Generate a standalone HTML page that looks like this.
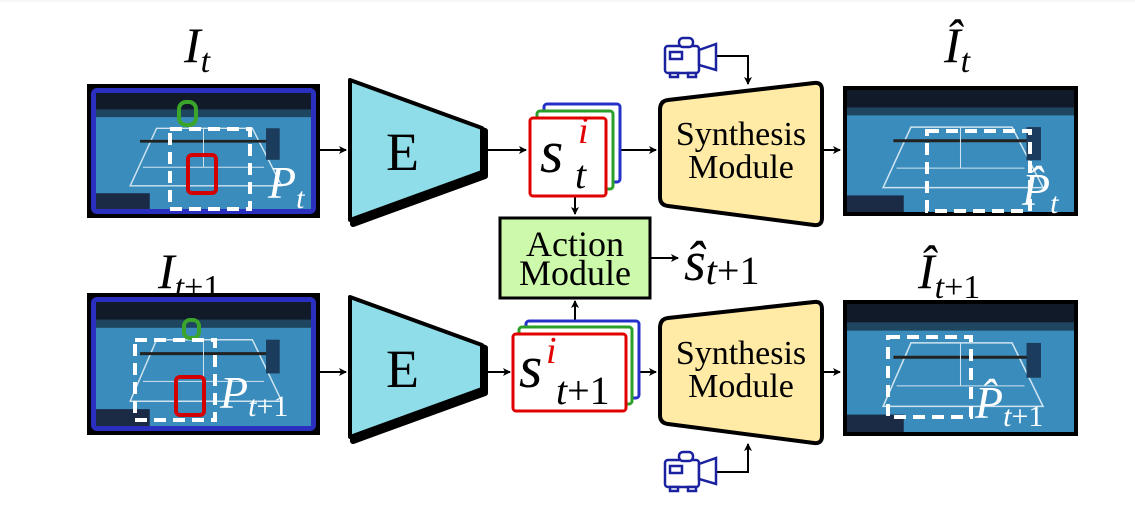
<!DOCTYPE html>
<html><head><meta charset="utf-8"><style>
body{margin:0;background:#fff}
svg{display:block}
text{font-family:"Liberation Serif","DejaVu Serif",serif}
</style></head><body>
<svg width="1135" height="506" viewBox="0 0 1135 506">
<defs>
<marker id="ah" markerWidth="8" markerHeight="8" refX="7" refY="4" orient="auto" markerUnits="userSpaceOnUse"><path d="M0,0 L8,4 L0,8 L2,4z" fill="#000"/></marker>
<g id="court">
<rect x="0" y="0" width="220" height="125" fill="#3a8cbc"/>
<rect x="0" y="0" width="220" height="18" fill="#101a28"/>
<rect x="0" y="18" width="220" height="8" fill="#1f4660"/>
<polygon points="62,38 160,38 190,100 35,100" fill="none" stroke="#cfe4f0" stroke-width="1.5"/>
<line x1="45" y1="52" x2="178" y2="52" stroke="#222" stroke-width="3"/>
<line x1="110" y1="38" x2="110" y2="80" stroke="#cfe4f0"/>
<line x1="48" y1="80" x2="172" y2="80" stroke="#cfe4f0"/>
<rect x="174" y="38" width="14" height="34" fill="#1b3c5c"/>
<rect x="-5" y="108" width="60" height="18" fill="#1b2a45"/>
</g>
</defs>
<rect width="1135" height="506" fill="#fff"/>
<line x1="0" y1="1" x2="1135" y2="1" stroke="#eee"/>

<g font-style="italic">
<text x="184" y="62" font-size="50">I<tspan font-size="34" dy="10">t</tspan></text>
<text x="158" y="288" font-size="50">I<tspan font-size="34" dy="10">t</tspan><tspan font-style="normal" font-size="34">+1</tspan></text>
<text x="944" y="62" font-size="50">Î<tspan font-size="34" dy="10">t</tspan></text>
<text x="918" y="288" font-size="50">Î<tspan font-size="34" dy="10">t</tspan><tspan font-style="normal" font-size="34">+1</tspan></text>
</g>

<g>
<rect x="87" y="84" width="233" height="134" fill="#000"/>
<rect x="91" y="88" width="225" height="126" rx="6" fill="#2a2fbf"/>
<svg x="96" y="93" width="215" height="116" viewBox="0 0 220 125" preserveAspectRatio="none"><use href="#court"/></svg>
<rect x="179" y="102" width="17" height="23" rx="7" fill="none" stroke="#3aa52a" stroke-width="4"/>
<rect x="170" y="129" width="80" height="80" fill="none" stroke="#fff" stroke-width="4" stroke-dasharray="12,7"/>
<rect x="188" y="155" width="28" height="38" rx="4" fill="none" stroke="#d40000" stroke-width="4"/>
<text x="268" y="198" font-size="46" font-style="italic" fill="#fff">P<tspan font-size="30" dy="10">t</tspan></text>
</g>
<g>
<rect x="87" y="293" width="233" height="142" fill="#000"/>
<rect x="91" y="297" width="225" height="134" rx="6" fill="#2a2fbf"/>
<svg x="96" y="302" width="215" height="124" viewBox="0 0 220 125" preserveAspectRatio="none"><use href="#court"/></svg>
<rect x="184" y="320" width="15" height="18" rx="6" fill="none" stroke="#3aa52a" stroke-width="4"/>
<rect x="135" y="340" width="80" height="80" fill="none" stroke="#fff" stroke-width="4" stroke-dasharray="12,7"/>
<rect x="176" y="377" width="28" height="38" rx="4" fill="none" stroke="#d40000" stroke-width="4"/>
<text x="220" y="408" font-size="46" font-style="italic" fill="#fff">P<tspan font-size="30" dy="8">t</tspan><tspan font-style="normal" font-size="30">+1</tspan></text>
</g>

<g>
<path d="M353,84 L485,131 L485,176 L353,224z" fill="#000" stroke="#000" stroke-width="6" stroke-linejoin="round"/>
<path d="M350,80 L482,128 L482,172 L350,220z" fill="#8fdde8" stroke="#000" stroke-width="4" stroke-linejoin="round"/>
<text x="386" y="170" font-size="54">E</text>
</g>
<g>
<path d="M353,301 L485,348 L485,393 L353,441z" fill="#000" stroke="#000" stroke-width="6" stroke-linejoin="round"/>
<path d="M350,297 L482,345 L482,389 L350,437z" fill="#8fdde8" stroke="#000" stroke-width="4" stroke-linejoin="round"/>
<text x="386" y="387" font-size="54">E</text>
</g>

<g stroke="#000" stroke-width="2" fill="none" marker-end="url(#ah)">
<line x1="320" y1="150" x2="346" y2="150"/>
<line x1="320" y1="372" x2="346" y2="372"/>
<line x1="487" y1="150" x2="526" y2="150"/>
<line x1="487" y1="372" x2="510" y2="372"/>
<line x1="620" y1="150" x2="656" y2="150"/>
<line x1="629" y1="372" x2="656" y2="372"/>
<line x1="822" y1="150" x2="840" y2="150"/>
<line x1="822" y1="372" x2="840" y2="372"/>
<line x1="575" y1="196" x2="575" y2="214"/>
<line x1="575" y1="332" x2="575" y2="301"/>
<line x1="651" y1="258" x2="678" y2="258"/>
<polyline points="717,56 748,56 748,84"/>
<polyline points="717,472 748,472 748,444"/>
</g>

<g>
<rect x="544" y="104" width="76" height="78" rx="3" fill="#fff" stroke="#2530c8" stroke-width="3"/>
<rect x="537" y="111" width="76" height="78" rx="3" fill="#fff" stroke="#2aa02a" stroke-width="3"/>
<rect x="530" y="118" width="76" height="78" rx="3" fill="#fff" stroke="#e00000" stroke-width="3"/>
<text x="540" y="172" font-size="60" font-style="italic">s</text>
<text x="578" y="143" font-size="38" font-style="italic" fill="#e00000">i</text>
<text x="575" y="188" font-size="40" font-style="italic">t</text>
</g>
<g>
<rect x="526" y="321" width="113" height="77" rx="3" fill="#fff" stroke="#2530c8" stroke-width="3"/>
<rect x="519" y="327" width="113" height="77" rx="3" fill="#fff" stroke="#2aa02a" stroke-width="3"/>
<rect x="513" y="334" width="113" height="77" rx="3" fill="#fff" stroke="#e00000" stroke-width="3"/>
<text x="519" y="387" font-size="60" font-style="italic">s</text>
<text x="546" y="363" font-size="38" font-style="italic" fill="#e00000">i</text>
<text x="556" y="404" font-size="40"><tspan font-style="italic">t</tspan>+1</text>
</g>

<g>
<rect x="500" y="218" width="150" height="80" fill="#ccf9aa" stroke="#000" stroke-width="3"/>
<text x="575" y="256" font-size="36" text-anchor="middle">Action</text>
<text x="575" y="285" font-size="36" text-anchor="middle">Module</text>
</g>
<text x="684" y="280" font-size="56" font-style="italic">ŝ<tspan font-size="40" dy="4">t</tspan><tspan font-size="40" font-style="normal">+1</tspan></text>

<g>
<path d="M668,100 L814,83 Q822,82 822,90 L822,218 Q822,226 814,225 L668,206 Q660,205 660,197 L660,110 Q660,101 668,100z" fill="#ffeaa6" stroke="#000" stroke-width="4"/>
<text x="741" y="145" font-size="34" text-anchor="middle">Synthesis</text>
<text x="741" y="178" font-size="34" text-anchor="middle">Module</text>
</g>
<g>
<path d="M668,318 L814,302 Q822,301 822,309 L822,436 Q822,444 814,443 L668,424 Q660,423 660,415 L660,328 Q660,319 668,318z" fill="#ffeaa6" stroke="#000" stroke-width="4"/>
<text x="741" y="364" font-size="34" text-anchor="middle">Synthesis</text>
<text x="741" y="397" font-size="34" text-anchor="middle">Module</text>
</g>

<g fill="#fff" stroke="#1a22a0" stroke-width="2.5">
<rect x="665" y="46" width="34" height="27" rx="3"/>
<rect x="670" y="52" width="12" height="7"/>
<rect x="679" y="38" width="14" height="9" rx="4"/>
<polygon points="699,50 716,44 716,70 699,65"/>
<rect x="670" y="73" width="8" height="4"/><rect x="688" y="73" width="8" height="4"/>
</g>
<g fill="#fff" stroke="#1a22a0" stroke-width="2.5">
<rect x="665" y="460" width="34" height="27" rx="3"/>
<rect x="670" y="466" width="12" height="7"/>
<rect x="679" y="452" width="14" height="9" rx="4"/>
<polygon points="699,464 716,458 716,484 699,479"/>
<rect x="670" y="487" width="8" height="4"/><rect x="688" y="487" width="8" height="4"/>
</g>

<g>
<rect x="843" y="86" width="235" height="130" fill="#000"/>
<svg x="847" y="90" width="227" height="122" viewBox="0 0 220 125" preserveAspectRatio="none"><use href="#court"/></svg>
<rect x="927" y="131" width="103" height="80" fill="none" stroke="#fff" stroke-width="4" stroke-dasharray="12,7"/>
<text x="1022" y="205" font-size="46" font-style="italic" fill="#fff">P̂<tspan font-size="30" dy="8">t</tspan></text>
</g>
<g>
<rect x="843" y="300" width="235" height="136" fill="#000"/>
<svg x="847" y="304" width="227" height="128" viewBox="0 0 220 125" preserveAspectRatio="none"><use href="#court"/></svg>
<rect x="888" y="337" width="83" height="80" fill="none" stroke="#fff" stroke-width="4" stroke-dasharray="12,7"/>
<text x="975" y="418" font-size="46" font-style="italic" fill="#fff">P̂<tspan font-size="30" dy="8">t</tspan><tspan font-style="normal" font-size="30">+1</tspan></text>
</g>
</svg>
</body></html>
